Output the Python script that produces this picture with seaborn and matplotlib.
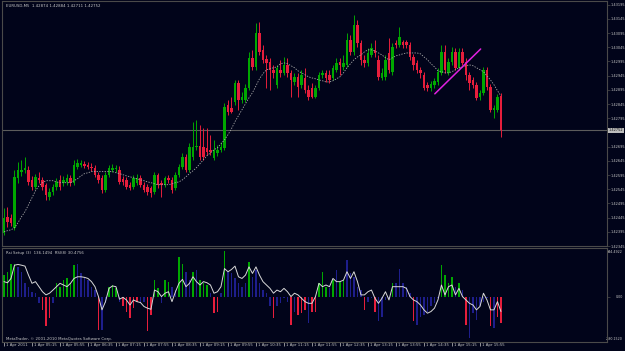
import numpy as np
import pandas as pd
import matplotlib
matplotlib.use("Agg")
import matplotlib.pyplot as plt
from matplotlib import font_manager
from matplotlib.transforms import ScaledTranslation
import seaborn as sns

# ---------------- data ----------------
open_ = [1.42392,1.42448,1.42445,1.42409,1.42585,1.42607,1.42614,1.42614,1.42578,1.42554,
 1.42585,1.42578,1.42561,1.42519,1.42536,1.42554,1.42578,1.42568,1.42571,1.42585,
 1.42568,1.42624,1.42631,1.42635,1.42631,1.42624,1.42621,1.42596,1.42585,1.42543,
 1.42596,1.42614,1.42617,1.42614,1.42582,1.42578,1.42561,1.42554,1.42568,1.42585,
 1.42561,1.42554,1.42550,1.42536,1.42596,1.42568,1.42561,1.42585,1.42578,1.42550,
 1.42596,1.42624,1.42659,1.42614,1.42659,1.42695,1.42698,1.42695,1.42691,1.42684,
 1.42656,1.42673,1.42684,1.42691,1.42842,1.42832,1.42853,1.42920,1.42860,1.42860,
 1.42902,1.43008,1.42976,1.43096,1.43036,1.43004,1.42994,1.42966,1.42913,1.42966,
 1.42955,1.42983,1.42955,1.42923,1.42941,1.42913,1.42937,1.42895,1.42902,1.42871,
 1.42902,1.42948,1.42955,1.42948,1.42937,1.42966,1.42994,1.42976,1.42983,1.43071,
 1.43029,1.43124,1.43061,1.43001,1.42990,1.43018,1.43036,1.43001,1.42937,1.42941,
 1.43025,1.42959,1.43061,1.43054,1.43064,1.43064,1.43054,1.43011,1.42990,1.42966,
 1.42948,1.42913,1.42902,1.42913,1.42923,1.42955,1.43029,1.42955,1.42994,1.43029,
 1.42973,1.43029,1.42994,1.42948,1.42930,1.42913,1.42871,1.42885,1.42966,1.42906,
 1.42825,1.42825,1.42874]
close = [1.42445,1.42431,1.42427,1.42589,1.42614,1.42614,1.42621,1.42571,1.42554,1.42589,
 1.42578,1.42554,1.42526,1.42536,1.42554,1.42571,1.42554,1.42578,1.42585,1.42568,
 1.42631,1.42638,1.42638,1.42628,1.42624,1.42621,1.42596,1.42578,1.42543,1.42596,
 1.42621,1.42621,1.42621,1.42571,1.42571,1.42554,1.42550,1.42585,1.42585,1.42561,
 1.42543,1.42536,1.42533,1.42596,1.42561,1.42561,1.42585,1.42578,1.42543,1.42596,
 1.42624,1.42659,1.42614,1.42695,1.42695,1.42698,1.42659,1.42659,1.42677,1.42677,
 1.42684,1.42684,1.42695,1.42835,1.42818,1.42818,1.42920,1.42860,1.42871,1.42902,
 1.43008,1.42976,1.43096,1.43029,1.43001,1.42990,1.42966,1.42955,1.42973,1.42955,
 1.42983,1.42955,1.42930,1.42941,1.42906,1.42948,1.42895,1.42871,1.42871,1.42902,
 1.42948,1.42955,1.42937,1.42930,1.42973,1.42990,1.42983,1.42990,1.43071,1.43029,
 1.43124,1.43061,1.43001,1.42990,1.43025,1.43043,1.43025,1.42941,1.42955,1.43001,
 1.42966,1.43047,1.43054,1.43082,1.43054,1.43054,1.43011,1.42983,1.42966,1.42955,
 1.42902,1.42902,1.42916,1.42927,1.42959,1.43029,1.42966,1.42994,1.43029,1.42973,
 1.43029,1.42990,1.42948,1.42920,1.42913,1.42867,1.42885,1.42966,1.42906,1.42825,
 1.42832,1.42871,1.42752]
high = [1.42480,1.42483,1.42459,1.42614,1.42642,1.42649,1.42659,1.42628,1.42592,1.42600,
 1.42607,1.42589,1.42568,1.42550,1.42564,1.42585,1.42596,1.42592,1.42600,1.42596,
 1.42649,1.42652,1.42649,1.42645,1.42642,1.42638,1.42631,1.42607,1.42596,1.42607,
 1.42631,1.42635,1.42631,1.42628,1.42592,1.42589,1.42571,1.42596,1.42600,1.42596,
 1.42571,1.42564,1.42557,1.42607,1.42603,1.42578,1.42592,1.42596,1.42589,1.42607,
 1.42635,1.42673,1.42670,1.42709,1.42783,1.42790,1.42772,1.42761,1.42761,1.42737,
 1.42719,1.42702,1.42712,1.42849,1.42860,1.42871,1.42930,1.42930,1.42888,1.42916,
 1.43029,1.43036,1.43131,1.43135,1.43054,1.43018,1.43008,1.42983,1.42983,1.43001,
 1.43011,1.43008,1.42966,1.42955,1.42955,1.42966,1.42973,1.42913,1.42920,1.42913,
 1.42959,1.42966,1.42966,1.42966,1.42983,1.43008,1.43008,1.43018,1.43096,1.43089,
 1.43159,1.43142,1.43071,1.43018,1.43043,1.43061,1.43071,1.43018,1.42973,1.43018,
 1.43078,1.43061,1.43071,1.43117,1.43071,1.43071,1.43064,1.43022,1.43001,1.42976,
 1.42959,1.42923,1.42927,1.42937,1.42973,1.43054,1.43054,1.43008,1.43047,1.43043,
 1.43043,1.43043,1.43008,1.42959,1.42941,1.42923,1.42895,1.42976,1.42976,1.42916,
 1.42842,1.42881,1.42884]
low = [1.42385,1.42413,1.42417,1.42402,1.42568,1.42592,1.42603,1.42561,1.42543,1.42547,
 1.42568,1.42543,1.42508,1.42508,1.42526,1.42543,1.42543,1.42557,1.42561,1.42557,
 1.42561,1.42617,1.42624,1.42621,1.42617,1.42610,1.42589,1.42568,1.42533,1.42536,
 1.42589,1.42607,1.42607,1.42564,1.42561,1.42547,1.42543,1.42547,1.42561,1.42554,
 1.42536,1.42526,1.42519,1.42529,1.42550,1.42519,1.42554,1.42568,1.42533,1.42543,
 1.42589,1.42617,1.42607,1.42607,1.42649,1.42684,1.42649,1.42649,1.42666,1.42666,
 1.42649,1.42663,1.42677,1.42684,1.42807,1.42814,1.42842,1.42825,1.42849,1.42853,
 1.42895,1.42966,1.42966,1.43018,1.42990,1.42902,1.42895,1.42937,1.42902,1.42941,
 1.42948,1.42941,1.42871,1.42913,1.42871,1.42902,1.42885,1.42860,1.42867,1.42867,
 1.42895,1.42937,1.42923,1.42920,1.42930,1.42959,1.42948,1.42966,1.42976,1.43018,
 1.43018,1.43047,1.42983,1.42976,1.42980,1.43011,1.43011,1.42930,1.42930,1.42930,
 1.42955,1.42948,1.43043,1.43047,1.43043,1.43043,1.43001,1.42966,1.42955,1.42937,
 1.42895,1.42892,1.42892,1.42902,1.42913,1.42948,1.42955,1.42948,1.42983,1.42966,
 1.42966,1.42983,1.42930,1.42895,1.42902,1.42860,1.42860,1.42878,1.42895,1.42818,
 1.42797,1.42818,1.42730]
ma_line = [1.42395,1.42399,1.42402,1.42409,1.42427,1.42448,1.42466,1.42490,1.42515,1.42540,
 1.42557,1.42568,1.42575,1.42575,1.42575,1.42571,1.42568,1.42568,1.42568,1.42568,
 1.42575,1.42582,1.42592,1.42600,1.42603,1.42607,1.42607,1.42607,1.42607,1.42607,
 1.42607,1.42607,1.42603,1.42600,1.42596,1.42592,1.42589,1.42585,1.42582,1.42578,
 1.42575,1.42571,1.42568,1.42564,1.42561,1.42561,1.42561,1.42561,1.42564,1.42568,
 1.42571,1.42578,1.42589,1.42600,1.42610,1.42621,1.42635,1.42649,1.42663,1.42673,
 1.42684,1.42691,1.42705,1.42719,1.42737,1.42758,1.42783,1.42804,1.42825,1.42846,
 1.42867,1.42885,1.42909,1.42934,1.42952,1.42966,1.42969,1.42973,1.42976,1.42987,
 1.42990,1.42987,1.42980,1.42973,1.42962,1.42955,1.42948,1.42941,1.42937,1.42934,
 1.42930,1.42927,1.42923,1.42923,1.42927,1.42934,1.42941,1.42955,1.42973,1.42987,
 1.43001,1.43011,1.43018,1.43029,1.43036,1.43036,1.43032,1.43025,1.43018,1.43008,
 1.43001,1.43008,1.43015,1.43018,1.43022,1.43025,1.43025,1.43025,1.43025,1.43022,
 1.43011,1.43001,1.42987,1.42976,1.42962,1.42959,1.42955,1.42955,1.42959,1.42966,
 1.42973,1.42976,1.42980,1.42983,1.42980,1.42973,1.42966,1.42959,1.42944,1.42930,
 1.42913,1.42892,1.42874]
hist_vals = [117,135,179,179,161,135,73,55,28,20,
 -34,-69,-158,-113,-34,73,55,90,99,73,
 170,179,126,108,90,55,37,-176,-176,-34,
 55,64,46,-25,-51,-78,-113,-60,-25,-34,
 -25,-184,-96,90,46,-34,90,82,55,37,
 215,179,135,90,135,144,90,73,64,20,
 -87,-78,20,244.49,135,126,99,73,55,73,
 188,108,144,73,37,20,-51,-113,-51,-34,
 -7,-25,-149,-78,-96,-87,-69,-140,-78,-78,
 73,135,55,46,90,144,82,90,197,126,
 108,55,37,-69,-25,-7,-78,-131,-105,-16,
 -7,73,73,152,73,55,20,-131,-149,-105,
 -96,-78,-51,-34,-7,170,117,73,108,55,
 73,37,-149,-220.15,-87,-122,-51,-25,-7,-158,
 -167,-105,-140]
hist_state = list("ggggbbbbbb" "brrrbggggg" "gbbbbbbrbb" "gggbrrrrrb"
                  "brrggbggbb" "ggbbgbgggb" "rrbgbbbbbb" "gbbbbbbrbb"
                  "bbrbrrrbrr" "gggbgbggbb" "bbbrbbrbbb" "bgbbbbbrbb"
                  "bbbbbggggb" "gbrbbbbbbr" "brr")
signal_line = [82,76,99,170,174,170,165,117,73,82,
 55,28,11,20,37,55,73,64,55,73,
 99,108,108,105,99,82,55,2,-69,-25,
 46,59,55,-12,-2,-16,-43,-16,-25,-30,
 -51,-60,-66,37,28,2,20,28,-25,28,
 73,94,55,73,108,82,64,82,76,64,
 20,28,55,152,135,147,165,108,99,117,
 161,126,161,117,82,64,46,20,37,28,
 46,28,2,20,11,-7,-25,-34,-34,2,
 73,55,64,55,99,82,82,90,135,99,
 135,82,11,11,28,37,-7,-34,-7,28,
 -16,55,55,55,55,46,2,-16,-25,-43,
 -69,-87,-78,-60,-16,64,11,55,64,11,
 46,2,-16,-34,-43,-69,-51,20,-16,-69,
 -69,-25,-78]
trend_bars = [123.1, 136.2]
trend_prices = [1.42881, 1.43039]
last_price = 1.42752
price_ticks = [1.43195,1.43145,1.43095,1.43045,1.42995,1.42945,1.42895,1.42845,1.42795,
               1.42695,1.42645,1.42595,1.42545,1.42495,1.42445,1.42395,1.42345]
ind_ticks = [244.4922, 0.0, -220.1520]
ind_tick_labels = ["244.4922", "0.00", "-220.1520"]
time_labels = ["1 Apr 2011","1 Apr 05:15","1 Apr 05:55","1 Apr 06:35","1 Apr 07:15",
               "1 Apr 07:55","1 Apr 08:35","1 Apr 09:15","1 Apr 09:55","1 Apr 10:35",
               "1 Apr 11:15","1 Apr 11:55","1 Apr 12:35","1 Apr 13:15","1 Apr 13:55",
               "1 Apr 14:35","1 Apr 15:15","1 Apr 15:55"]
label_step = 8
title_text = "EURUSD,M5  1.42874 1.42884 1.42711 1.42752"
ind_title = "Rsi Setup (3)  136.1494  RSI(8) 30.4756"
copyright_text = "MetaTrader, \u00a9 2001-2010 MetaQuotes Software Corp."

# ---------------- style ----------------
BG = "#01041a"
FRAME = "#4a4a4a"
TXT = "#c8c8c8"
BULL = "#00a800"
BEAR = "#e61e3c"
HBLUE = "#1e1e8c"

sns.set_style("dark", rc={"axes.facecolor": BG, "figure.facecolor": BG,
                          "axes.edgecolor": FRAME, "axes.grid": False})
avail = {f.name for f in font_manager.fontManager.ttflist}
fam = ["Liberation Sans Narrow", "DejaVu Sans"] if "Liberation Sans Narrow" in avail else ["DejaVu Sans"]
plt.rcParams["font.family"] = fam
FS = 2.8
FSR = 2.5

df = pd.DataFrame({"bar": np.arange(len(close)), "open": open_, "high": high,
                   "low": low, "close": close, "ma": ma_line,
                   "hist": hist_vals, "state": hist_state, "sig": signal_line})
up = df["close"] >= df["open"]

fig = plt.figure(figsize=(6.25, 3.51), dpi=100, facecolor=BG)
ax = fig.add_axes([2/625, 105/351, 605/625, 245/351])
ax2 = fig.add_axes([2/625, 9/351, 605/625, 94/351], sharex=ax)
for a in (ax, ax2):
    a.set_facecolor(BG)
    for s in a.spines.values():
        s.set_color(FRAME)
        s.set_linewidth(0.8)

# candles
ccol = np.where(up, BULL, BEAR)
ax.vlines(df["bar"], df["low"], df["high"], colors=ccol, linewidth=0.7, zorder=2)
body_lo = np.minimum(df["open"], df["close"])
body_h = np.maximum(np.abs(df["close"] - df["open"]), 0.000012)
ax.bar(df["bar"], body_h, bottom=body_lo, width=0.72, color=ccol, linewidth=0, zorder=3)

# moving average
sns.lineplot(data=df, x="bar", y="ma", ax=ax, color="#a8a8a8", linewidth=0.6,
             linestyle=(0, (1.6, 1.6)), zorder=4)
# trend line
ax.plot(trend_bars, trend_prices, color="#e020e0", linewidth=1.1, zorder=5)
# last price line
ax.axhline(last_price, color="#5c5c5c", linewidth=0.8, zorder=1)

ax.set_xlim(-0.57, 172.3)
ax.set_ylim(1.42345, 1.43208)
ax.yaxis.tick_right()
ax.set_yticks(price_ticks)
ax.set_yticklabels([f"{t:.5f}" for t in price_ticks])
ax.tick_params(axis="y", which="both", right=True, length=2, width=0.5, color=FRAME,
               labelsize=FSR, labelcolor=TXT, pad=0.6)
ax.tick_params(axis="x", bottom=False, labelbottom=False)
ax.set_xlabel("")
ax.set_ylabel("")
ax.text(1.003, last_price, f"{last_price:.5f}", transform=ax.get_yaxis_transform(),
        ha="left", va="center", fontsize=FSR, color="#101010",
        bbox=dict(boxstyle="square,pad=0.2", facecolor="#bdbdbd", edgecolor="none"),
        clip_on=False, zorder=10)
ax.text(0.006, 0.988, title_text, transform=ax.transAxes, ha="left", va="top",
        fontsize=FS, color=TXT)

# indicator panel
hcolors = {"g": BULL, "b": HBLUE, "r": BEAR}
ax2.bar(df["bar"], df["hist"], width=0.45, color=[hcolors[s] for s in df["state"]],
        linewidth=0, zorder=2)
sns.lineplot(data=df, x="bar", y="sig", ax=ax2, color="#d8d8d8", linewidth=0.7, zorder=3)
ax2.set_ylim(-241, 262)
ax2.yaxis.tick_right()
ax2.set_yticks(ind_ticks)
ax2.set_yticklabels(ind_tick_labels, ha="right")
ax2.tick_params(axis="y", right=True, length=2, width=0.5, color=FRAME,
                labelsize=2.3, labelcolor=TXT, pad=9.3)
tick_pos = np.arange(len(time_labels)) * label_step
ax2.set_xticks(tick_pos)
ax2.set_xticklabels(time_labels, ha="left")
ax2.tick_params(axis="x", bottom=True, length=3, width=0.5, color=TXT, direction="out",
                labelsize=FS, labelcolor=TXT, pad=-2.3)
for lab in ax2.get_xticklabels():
    lab.set_transform(lab.get_transform() + ScaledTranslation(1.5/72, 0, fig.dpi_scale_trans))
ax2.set_xlabel("")
ax2.set_ylabel("")
ax2.text(0.006, 0.97, ind_title, transform=ax2.transAxes, ha="left", va="top",
         fontsize=FS, color=TXT)
ax2.text(0.006, 0.015, copyright_text, transform=ax2.transAxes, ha="left", va="bottom",
         fontsize=FS, color=TXT)

fig.savefig("out.png", dpi=100, facecolor=BG)
